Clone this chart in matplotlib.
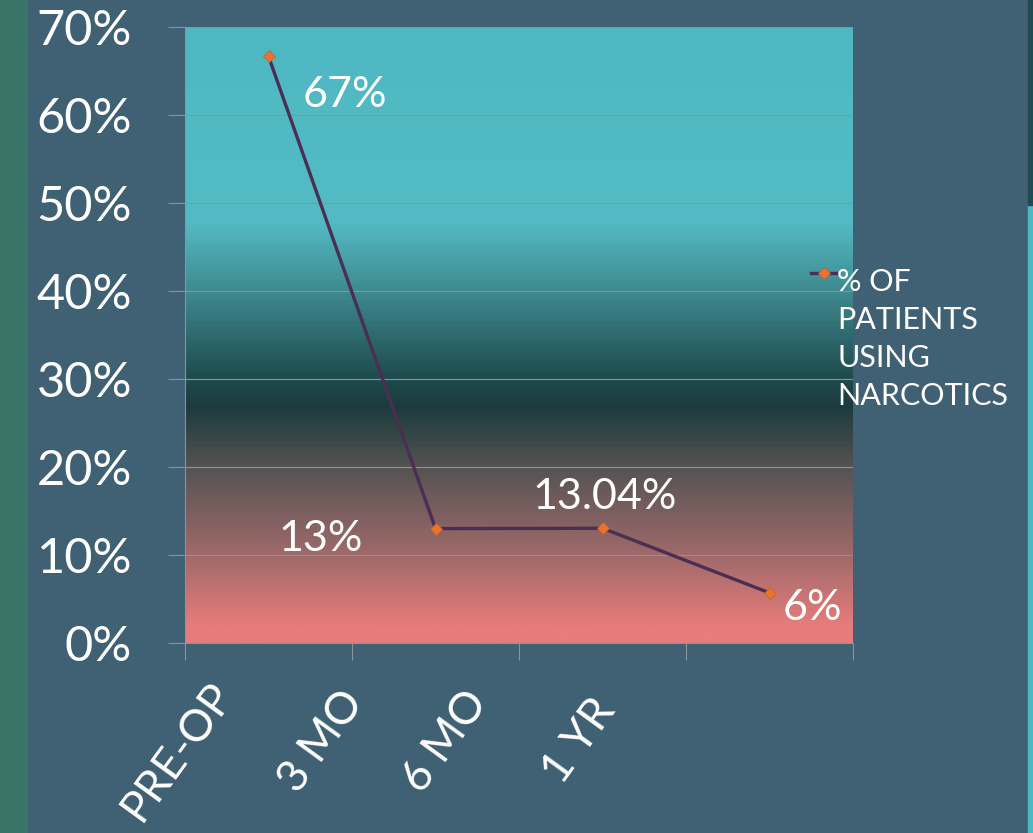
import matplotlib.pyplot as plt
import numpy as np
from matplotlib.colors import LinearSegmentedColormap
from matplotlib.lines import Line2D
from matplotlib.patches import Rectangle

# chart data
periods = ['PRE-OP', '3 MO', '6 MO', '1 YR']
pct_using = [66.67, 13.0, 13.04, 5.7]
point_labels = ['67%', '13%', '13.04%', '6%']
series_name = '% OF\nPATIENTS\nUSING\nNARCOTICS'
y_ticks = [0, 10, 20, 30, 40, 50, 60, 70]

plt.rcParams['font.family'] = ['Lato', 'DejaVu Sans']
BG = '#3F6173'
GRID = '#87969B'
LINE_C = '#4A2F52'
MARK_C = '#E8732F'

fig = plt.figure(figsize=(10.33, 8.33), dpi=100, facecolor=BG)
W, H = 1033, 833

# decorative strips at the slide edges
fig.patches.append(Rectangle((0, 0), 27 / W, 1, transform=fig.transFigure,
                             color='#3A7367', zorder=0))
fig.patches.append(Rectangle((1028 / W, 0), 5 / W, 1 - 205 / H, transform=fig.transFigure,
                             color='#4DB8C2', zorder=0))
fig.patches.append(Rectangle((1028 / W, 1 - 205 / H), 5 / W, 205 / H, transform=fig.transFigure,
                             color='#1E4B52', zorder=0))

ax = fig.add_axes([185 / W, 190 / H, 668 / W, 616 / H])
ax.set_facecolor('none')

# vertical gradient fill of the plot area
stops = [(0.0, '#E67C7B'), (1.8, '#E67C7B'), (9.8, '#A06A6A'), (19.8, '#565353'),
         (26.8, '#1C3B3D'), (30, '#1F4A4D'), (40, '#3E8A90'), (48, '#54BBC4'),
         (70, '#4EB8C2')]
cmap = LinearSegmentedColormap.from_list('bg', [(v / 70, c) for v, c in stops])
grad = np.linspace(0, 1, 400).reshape(-1, 1)
ax.imshow(grad, extent=[-0.5, 3.5, 0, 70], origin='lower', aspect='auto',
          cmap=cmap, zorder=0)

x = np.arange(len(periods))
ax.plot(x, pct_using, color=LINE_C, lw=2.4, marker='D', ms=6.5,
        mfc=MARK_C, mec='#D0621F', mew=0.6, zorder=3)

offsets = [(34, -51, 'left'), (-73, -22, 'right'), (2, 19, 'center'), (13, -27, 'left')]
for xi, yi, txt, (dx, dy, ha) in zip(x, pct_using, point_labels, offsets):
    ax.annotate(txt, (xi, yi), xytext=(dx, dy), textcoords='offset pixels',
                ha=ha, va='baseline', color='white', fontsize=31, zorder=4)

ax.set_xlim(-0.5, 3.5)
ax.set_ylim(0, 70)
ax.set_yticks(y_ticks)
ax.set_yticklabels([f'{v}%' for v in y_ticks])
ax.set_xticks(np.arange(-0.5, 4, 1))
ax.set_xticklabels([])
ax.yaxis.grid(True, color=GRID, lw=0.8)
ax.set_axisbelow(True)
ax.tick_params(axis='y', length=12, width=0.8, color=GRID, pad=26,
               labelsize=35, labelcolor='white')
ax.tick_params(axis='x', length=12, width=0.8, color=GRID)
for s in ['top', 'right']:
    ax.spines[s].set_visible(False)
for s in ['left', 'bottom']:
    ax.spines[s].set_color(GRID)
    ax.spines[s].set_linewidth(0.8)

# rotated category labels
lab_off = [(-44, -44), (-80, -52), (-124, -52), (-163, -60)]
for xi, lab, (dx, dy) in zip(x, periods, lab_off):
    ax.annotate(lab, (xi, 0), xycoords=('data', 'axes fraction'),
                xytext=(dx, dy), textcoords='offset pixels', rotation=54,
                rotation_mode='anchor', ha='right', va='center',
                color='white', fontsize=32, annotation_clip=False)

# legend entry drawn by hand so the marker sits on the first text line
ly = 1 - 273 / H
fig.add_artist(Line2D([811 / W, 836 / W], [ly, ly], transform=fig.transFigure,
                      color=LINE_C, lw=2.4))
fig.add_artist(Line2D([823.5 / W], [ly], transform=fig.transFigure, marker='D',
                      ms=6.5, mfc=MARK_C, mec='#D0621F', mew=0.6))
fig.text(837 / W, 1 - 405 / H, series_name, color='white', fontsize=22,
         va='baseline', ha='left', linespacing=1.43)

fig.savefig('out.png', dpi=100, facecolor=BG)
